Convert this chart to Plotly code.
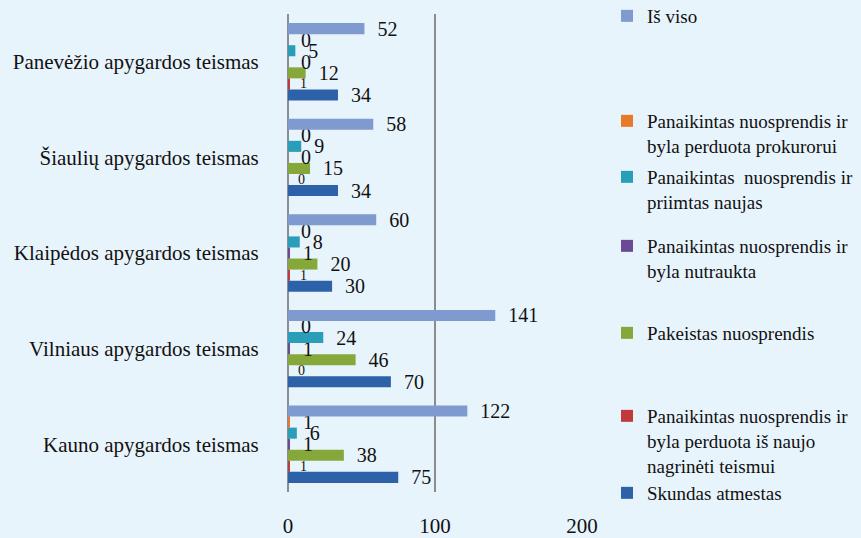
import plotly.graph_objects as go

courts = ["Kauno apygardos teismas", "Vilniaus apygardos teismas", "Klaipėdos apygardos teismas",
          "Šiaulių apygardos teismas", "Panevėžio apygardos teismas"]

series_names = [
    "Skundas atmestas",
    "Panaikintas nuosprendis ir<br>byla perduota iš naujo<br>nagrinėti teismui",
    "Pakeistas nuosprendis",
    "Panaikintas nuosprendis ir<br>byla nutraukta",
    "Panaikintas  nuosprendis ir<br>priimtas naujas",
    "Panaikintas nuosprendis ir<br>byla perduota prokurorui",
    "Iš viso",
]
skundas = [75, 70, 30, 34, 34]
teismui = [1, 0, 1, 0, 1]
pakeistas = [38, 46, 20, 15, 12]
nutraukta = [1, 1, 1, 0, 0]
priimtas = [6, 24, 8, 9, 5]
prokurorui = [1, 0, 0, 0, 0]
is_viso = [122, 141, 60, 58, 52]
values = [skundas, teismui, pakeistas, nutraukta, priimtas, prokurorui, is_viso]
colors = ["#2E62A8", "#C0393B", "#86A83A", "#6A4A94", "#2A9DB8", "#E8792B", "#7E9ACF"]
label_sizes = [20, 14, 20, 20, 20, 20, 20]
x_ticks = [0, 100, 200]

FONT = "Times New Roman"
BG = "#E8F4FC"

legend_px = [492, 415, 332, 245, 176, 120, 15]

fig = go.Figure()
for i, (name, vals, col) in enumerate(zip(series_names, values, colors)):
    lg = "legend" if i == 0 else f"legend{i+1}"
    fig.add_trace(go.Bar(
        y=courts, x=vals, name=name, orientation="h",
        marker=dict(color=col, line=dict(width=0)),
        text=vals, texttemplate="\u00a0\u00a0%{x}", textposition="outside",
        constraintext="none",
        textfont=dict(family=FONT, size=label_sizes[i], color="#111111"),
        cliponaxis=False, legend=lg,
    ))

plot_top, plot_bottom = 14, 492
H = plot_bottom - plot_top
layout_legends = {}
for i, p in enumerate(legend_px):
    key = "legend" if i == 0 else f"legend{i+1}"
    layout_legends[key] = dict(
        x=1.085, xanchor="left",
        y=(plot_bottom - (p - 18)) / H, yanchor="top",
        bgcolor="rgba(0,0,0,0)",
        font=dict(family=FONT, size=19, color="#111111"),
        itemwidth=30, valign="top",
    )

fig.update_layout(
    width=861, height=538,
    paper_bgcolor=BG, plot_bgcolor=BG,
    margin=dict(l=288, r=279, t=plot_top, b=538 - plot_bottom, autoexpand=False),
    barmode="group", bargap=0.19, bargroupgap=0,
    font=dict(family=FONT, size=20, color="#111111"),
    showlegend=True,
    **layout_legends,
)
fig.update_xaxes(
    range=[0, 200], tickvals=x_ticks, showgrid=True, gridcolor="#8C8C8C", gridwidth=2,
    zeroline=True, zerolinecolor="#8C8C8C", zerolinewidth=2,
    showline=False, ticks="outside", ticklen=15, tickcolor="rgba(0,0,0,0)",
    tickfont=dict(family=FONT, size=21), fixedrange=True, automargin=False,
)
fig.update_yaxes(
    categoryorder="array", categoryarray=courts, range=[-0.5, 4.5],
    showgrid=False, showline=False, zeroline=False,
    ticks="outside", ticklen=24, tickcolor="rgba(0,0,0,0)",
    tickfont=dict(family=FONT, size=21), automargin=False,
)
fig.write_html("out.html", config={"displayModeBar": False},
               post_script="document.body.style.margin='0';document.body.style.background='#E8F4FC';")
